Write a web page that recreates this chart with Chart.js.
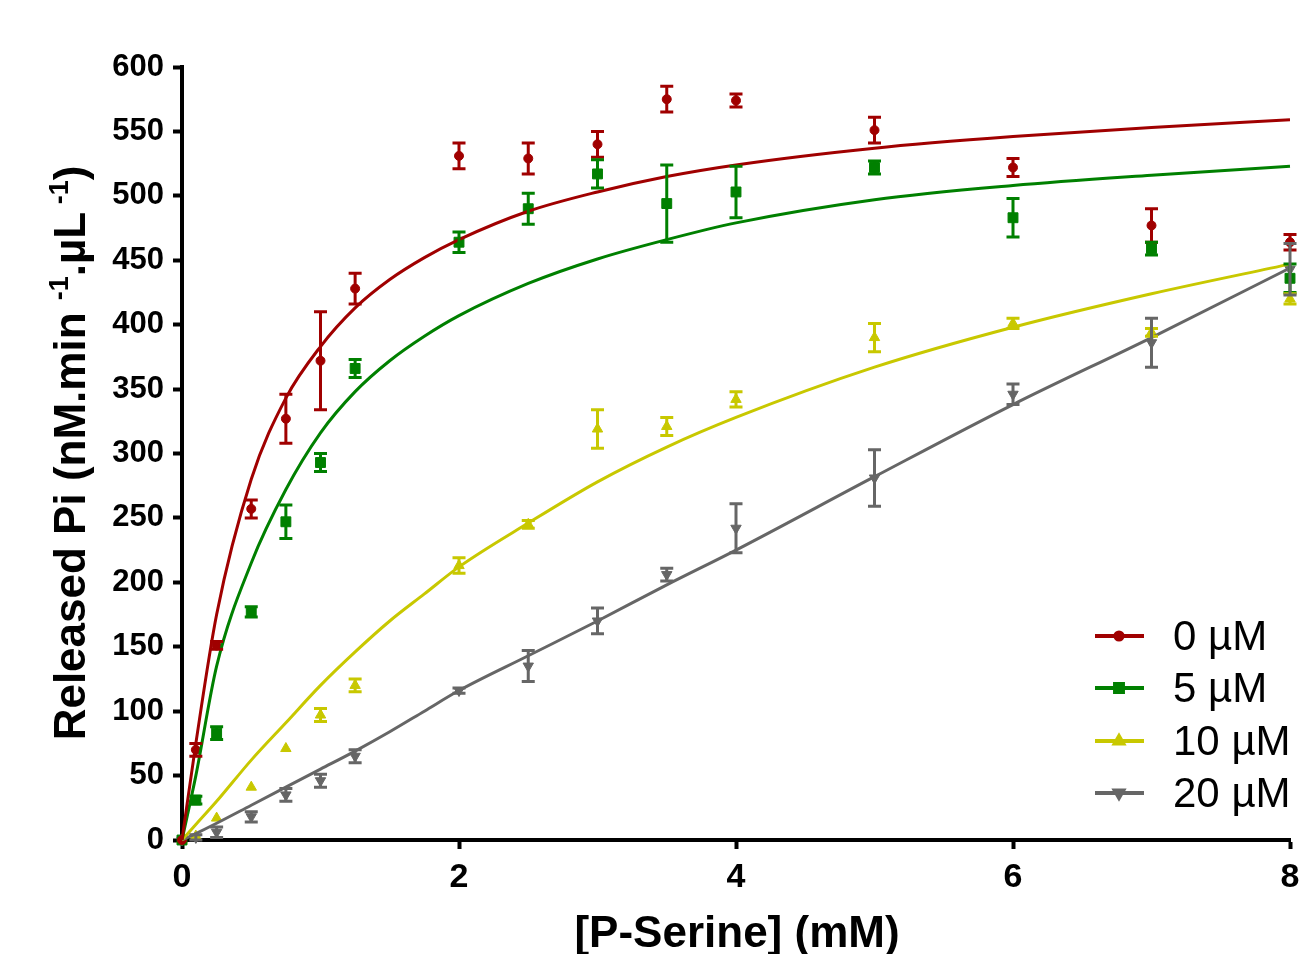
<!DOCTYPE html>
<html>
<head>
<meta charset="utf-8">
<script src="https://cdn.jsdelivr.net/npm/chart.js@4.4.0/dist/chart.umd.min.js"></script>
<style>
  html, body { margin: 0; padding: 0; background: #fff; }
  canvas { display: block; }
</style>
</head>
<body>
<canvas id="kineticsChart" width="1308" height="954"></canvas>
<script>
// measured points: [P-Serine] in mM
const serine = [0, 0.1, 0.25, 0.5, 0.75, 1, 1.25, 2, 2.5, 3, 3.5, 4, 5, 6, 7, 8];

const mean0 = [0, 70, 151, 257, 327, 372, 428, 531, 529, 540, 575, 574, 551, 522, 477, 464];
const err0  = [0, 5, 3, 7, 19, 38, 12, 10, 12, 10, 10, 5, 10, 7, 13, 6];

const mean5 = [0, 31, 83, 177, 247, 293, 366, 464, 490, 517, 494, 503, 522, 483, 459, 436];
const err5  = [0, 3, 5, 4, 13, 7, 7, 8, 12, 11, 30, 20, 5, 15, 5, 11];

const mean10 = [0, 3, 17, 41, 71, 97, 120, 213, 245, 319, 321, 342, 390, 401, 394, 420];
const err10  = [0, 0, 0, 0, 0, 5, 5, 6, 3, 15, 7, 6, 11, 4, 3, 4];

const mean20 = [0, 2, 6, 18, 35, 46, 65, 116, 135, 170, 206, 242, 281, 346, 386, 443];
const err20  = [0, 2, 4, 4, 5, 5, 5, 2, 12, 10, 5, 19, 22, 8, 19, 20];

// fitted curves
const fitX = [0, 0.1, 0.25, 0.5, 0.75, 1, 1.25, 1.5, 1.75, 2, 2.5, 3, 3.5, 4, 5, 6, 7, 8];
const fit0  = [0, 75, 175, 280, 343, 383, 413, 435, 452, 466, 488, 503, 515, 524, 537, 546, 553, 559];
const fit5  = [0, 50, 135, 215, 272, 316, 348, 372, 391, 407, 432, 451, 466, 479, 497, 508, 516, 523];
const fit10 = [0, 12, 30, 62, 91, 120, 146, 170, 191, 212, 246, 278, 305, 328, 367, 398, 424, 447];
const fit20 = [0, 5, 13, 27, 41, 55, 69, 84, 100, 116, 143, 170, 198, 225, 282, 338, 390, 444];

const legendLabels = ['0 µM', '5 µM', '10 µM', '20 µM'];
const colors = ['#a00000', '#008000', '#c8c800', '#666666'];
const markers = ['circle', 'rect', 'triangle', 'triangle'];
const markerRot = [0, 0, 0, 180];
const markerSize = [4.5, 7, 6, 6];

const means = [mean0, mean5, mean10, mean20];
const errs = [err0, err5, err10, err20];
const fits = [fit0, fit5, fit10, fit20];

const datasets = [];
for (let i = 0; i < 4; i++) {
  datasets.push({
    label: legendLabels[i] + ' fit',
    data: fitX.map((x, j) => ({ x: x, y: fits[i][j] })),
    showLine: true,
    borderColor: colors[i],
    borderWidth: 3,
    pointRadius: 0,
    cubicInterpolationMode: 'monotone',
    clip: false
  });
}
for (let i = 0; i < 4; i++) {
  datasets.push({
    label: legendLabels[i],
    data: serine.map((x, j) => ({ x: x, y: means[i][j] })),
    errors: errs[i],
    showLine: false,
    borderColor: colors[i],
    backgroundColor: colors[i],
    pointStyle: markers[i],
    rotation: markerRot[i],
    pointRadius: markerSize[i],
    borderWidth: 1,
    clip: false
  });
}

const errorBars = {
  id: 'errorBars',
  afterDatasetsDraw(chart) {
    const ctx = chart.ctx;
    const xs = chart.scales.x, ys = chart.scales.y;
    chart.data.datasets.forEach(ds => {
      if (!ds.errors) return;
      ctx.save();
      ctx.strokeStyle = ds.borderColor;
      ctx.lineWidth = 3;
      ds.data.forEach((p, j) => {
        const e = ds.errors[j];
        if (!e) return;
        const px = xs.getPixelForValue(p.x);
        const top = ys.getPixelForValue(p.y + e);
        const bot = ys.getPixelForValue(p.y - e);
        ctx.beginPath();
        ctx.moveTo(px, top); ctx.lineTo(px, bot);
        ctx.moveTo(px - 6.5, top); ctx.lineTo(px + 6.5, top);
        ctx.moveTo(px - 6.5, bot); ctx.lineTo(px + 6.5, bot);
        ctx.stroke();
      });
      ctx.restore();
    });
  }
};

// axis titles (y title needs superscripts) and the legend box
const decorations = {
  id: 'decorations',
  afterDraw(chart) {
    const ctx = chart.ctx;
    ctx.save();
    ctx.fillStyle = '#000';

    ctx.font = 'bold 44px "Liberation Sans", Arial, sans-serif';
    ctx.textAlign = 'center';
    ctx.textBaseline = 'alphabetic';
    ctx.fillText('[P-Serine] (mM)', 737, 947);

    // y title, rotated
    const big = 'bold 44px "Liberation Sans", Arial, sans-serif';
    const small = 'bold 27px "Liberation Sans", Arial, sans-serif';
    const parts = [
      { t: 'Released Pi (nM.min ', f: big, dy: 0 },
      { t: '-1', f: small, dy: -17 },
      { t: '.µL', f: big, dy: 0 },
      { t: ' -1', f: small, dy: -17 },
      { t: ')', f: big, dy: 0 }
    ];
    let total = 0;
    parts.forEach(p => { ctx.font = p.f; p.w = ctx.measureText(p.t).width; total += p.w; });
    ctx.translate(85, 453);
    ctx.rotate(-Math.PI / 2);
    ctx.textAlign = 'left';
    let cx = -total / 2;
    parts.forEach(p => {
      ctx.font = p.f;
      ctx.fillText(p.t, cx, p.dy);
      cx += p.w;
    });
    ctx.restore();

    // legend
    ctx.save();
    const rows = [636, 688, 741, 793];
    ctx.font = '42px "Liberation Sans", Arial, sans-serif';
    ctx.textBaseline = 'middle';
    ctx.textAlign = 'left';
    for (let i = 0; i < 4; i++) {
      ctx.strokeStyle = colors[i];
      ctx.lineWidth = 4;
      ctx.beginPath();
      ctx.moveTo(1095, rows[i]);
      ctx.lineTo(1144, rows[i]);
      ctx.stroke();
      ctx.fillStyle = colors[i];
      Chart.helpers.drawPoint(ctx, {
        pointStyle: markers[i], rotation: markerRot[i],
        radius: markerSize[i] * 0.8, borderWidth: 1
      }, 1119, rows[i]);
      ctx.fillStyle = '#000';
      ctx.fillText(legendLabels[i], 1173, rows[i] + 2);
    }
    ctx.restore();
  }
};

const ctx = document.getElementById('kineticsChart').getContext('2d');
const chart = new Chart(ctx, {
  type: 'scatter',
  data: { datasets: datasets },
  options: {
    responsive: false,
    animation: false,
    layout: { padding: { left: 0, right: 18, top: 67, bottom: 0 } },
    plugins: {
      legend: { display: false },
      tooltip: { enabled: false }
    },
    scales: {
      x: {
        type: 'linear',
        min: 0,
        max: 8,
        afterFit: scale => { scale.height = 114; },
        border: { color: '#000', width: 4 },
        grid: { drawOnChartArea: false, drawTicks: true, tickLength: 9, tickWidth: 4, tickColor: '#000' },
        ticks: {
          stepSize: 2,
          color: '#000',
          padding: 8,
          font: { family: '"Liberation Sans", Arial, sans-serif', size: 34, weight: 'bold' }
        }
      },
      y: {
        min: 0,
        max: 600,
        afterFit: scale => { scale.width = 182; },
        border: { color: '#000', width: 4 },
        grid: { drawOnChartArea: false, drawTicks: true, tickLength: 9, tickWidth: 4, tickColor: '#000' },
        ticks: {
          stepSize: 50,
          color: '#000',
          padding: 9,
          font: { family: '"Liberation Sans", Arial, sans-serif', size: 31, weight: 'bold' }
        }
      }
    }
  },
  plugins: [errorBars, decorations]
});
</script>
</body>
</html>
